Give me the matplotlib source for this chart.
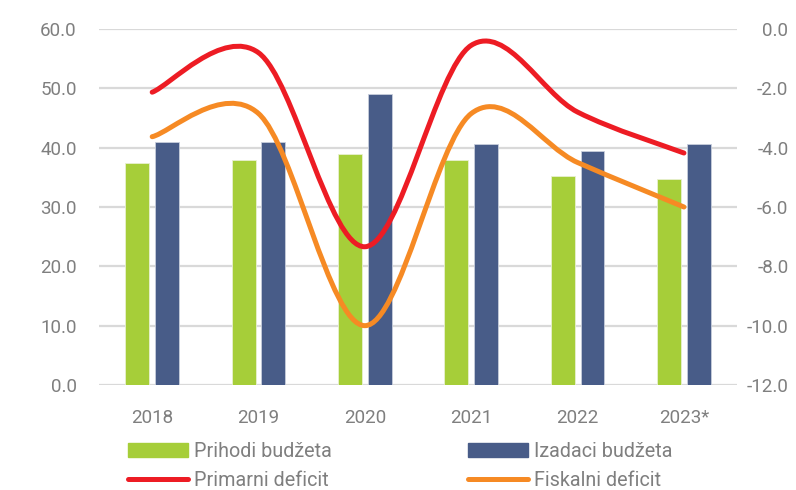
import matplotlib
matplotlib.use("Agg")
import matplotlib.pyplot as plt
import numpy as np
from matplotlib.path import Path
from matplotlib.patches import PathPatch, Patch
from matplotlib.lines import Line2D

plt.rcParams['font.family'] = ['Roboto', 'DejaVu Sans']

years = ['2018', '2019', '2020', '2021', '2022', '2023*']
prihodi = [37.4, 38.0, 39.0, 37.9, 35.2, 34.7]
izdaci = [41.0, 40.9, 49.0, 40.7, 39.5, 40.7]
primarni = [-2.13, -0.8, -7.34, -0.55, -2.8, -4.18]
fiskalni = [-3.63, -2.85, -10.0, -2.85, -4.5, -6.0]

green = '#A6CE39'
blue = '#485C88'
red = '#ED1C24'
orange = '#F68A24'
gray = '#7F7F7F'
grid = '#D9D9D9'


def smooth_path(xs, ys):
    # Excel-like smoothed line: cubic bezier segments through the points
    xs = np.asarray(xs, float)
    ys = np.asarray(ys, float)
    n = len(xs)
    verts = [(xs[0], ys[0])]
    codes = [Path.MOVETO]
    for i in range(n - 1):
        x0, y0 = (xs[i - 1], ys[i - 1]) if i > 0 else (xs[i], ys[i])
        x3, y3 = (xs[i + 2], ys[i + 2]) if i + 2 < n else (xs[i + 1], ys[i + 1])
        c1 = (xs[i] + (xs[i + 1] - x0) / 6, ys[i] + (ys[i + 1] - y0) / 6)
        c2 = (xs[i + 1] - (x3 - xs[i]) / 6, ys[i + 1] - (y3 - ys[i]) / 6)
        verts += [c1, c2, (xs[i + 1], ys[i + 1])]
        codes += [Path.CURVE4] * 3
    return Path(verts, codes)


fig = plt.figure(figsize=(7.96, 4.9), dpi=100)
ax = fig.add_axes([0.1244, 0.2143, 0.8016, 0.7265])
ax2 = ax.twinx()

x = np.arange(len(years))
w = 0.225
ax.bar(x - 0.14, prihodi, w, color=green, edgecolor='#E8F0D0', linewidth=0.6, zorder=3)
ax.bar(x + 0.14, izdaci, w, color=blue, edgecolor='#C8CEDC', linewidth=0.6, zorder=3)

ax.set_ylim(0, 60)
ax.set_yticks(np.arange(0, 61, 10))
ax.set_yticklabels([f'{v:.1f}' for v in np.arange(0, 61, 10)])
ax.set_xlim(-0.5, len(years) - 0.5)
ax.set_xticks(x)
ax.set_xticklabels(years)
for v in np.arange(0, 61, 10):
    ax.axhline(v, color=grid, lw=1.6, zorder=1)

ax2.set_ylim(-12, 0)
ax2.set_yticks(np.arange(-12, 0.1, 2))
ax2.set_yticklabels([f'{v:.1f}' for v in np.arange(-12, 0.1, 2)])

for path_y, col in [(primarni, red), (fiskalni, orange)]:
    p = smooth_path(x, path_y)
    ax2.add_patch(PathPatch(p, facecolor='none', edgecolor=col, lw=3.6,
                            capstyle='round', zorder=4))

for a in (ax, ax2):
    for s in a.spines.values():
        s.set_visible(False)
    a.tick_params(length=0, labelsize=13.5, labelcolor=gray)
ax.tick_params(axis='y', pad=16)
ax.tick_params(axis='x', pad=17)
ax2.tick_params(axis='y', pad=37)
for lab in ax2.get_yticklabels():
    lab.set_ha('right')

handles = [Patch(color=green), Line2D([], [], color=red, lw=3.6, solid_capstyle='round'),
           Patch(color=blue), Line2D([], [], color=orange, lw=3.6, solid_capstyle='round')]
labels = ['Prihodi budžeta', 'Primarni deficit', 'Izadaci budžeta', 'Fiskalni deficit']
leg = fig.legend(handles, labels, ncol=2, loc='upper left', bbox_to_anchor=(0.161, 0.098),
                 frameon=False, fontsize=14.2, handlelength=3.05, handletextpad=0.3,
                 columnspacing=6.9, labelspacing=0.5, borderaxespad=0, borderpad=0)
for t in leg.get_texts():
    t.set_color(gray)

fig.savefig('out.png', dpi=100)
